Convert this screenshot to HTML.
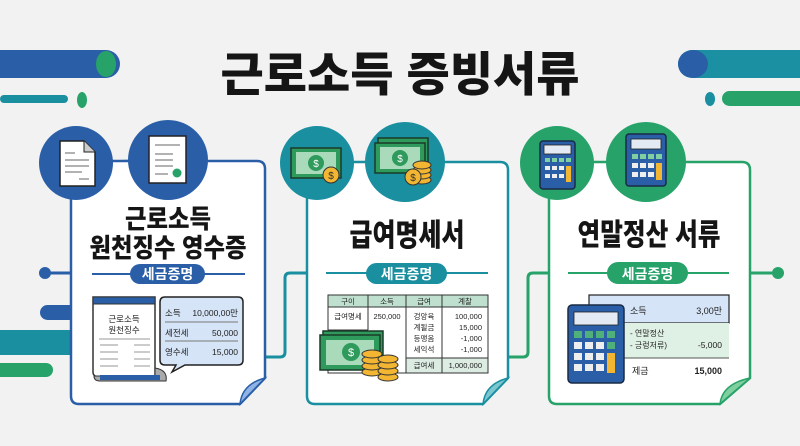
<!DOCTYPE html>
<html><head><meta charset="utf-8"><style>
html,body{margin:0;padding:0;background:#f2f2f2;}
svg{display:block;}
text{font-family:"Liberation Sans","Noto Sans CJK KR",sans-serif;}
</style></head><body>
<svg width="800" height="446" viewBox="0 0 800 446" xmlns="http://www.w3.org/2000/svg">
<rect width="800" height="446" fill="#f2f2f2"/>
<rect x="-20" y="50" width="140" height="28" rx="14" fill="#2a5fa8"/>
<ellipse cx="106" cy="64" rx="10" ry="13" fill="#27a36a"/>
<rect x="0" y="95" width="68" height="8" rx="4" fill="#1a8fa0"/>
<ellipse cx="82" cy="100" rx="5" ry="8" fill="#27a36a"/>
<rect x="678" y="50" width="140" height="28" rx="14" fill="#1a90a2"/>
<ellipse cx="693" cy="64" rx="15" ry="14" fill="#2a5fa8"/>
<rect x="722" y="91" width="100" height="15" rx="7.5" fill="#27a36a"/>
<ellipse cx="710" cy="99" rx="5" ry="7" fill="#1a8fa0"/>
<text x="400" y="91" text-anchor="middle" font-size="47" font-weight="900" fill="#151515" font-family="'Noto Sans CJK KR',sans-serif">근로소득 증빙서류</text>

<line x1="45" y1="273" x2="72" y2="273" stroke="#2a5fa8" stroke-width="3"/>
<circle cx="45" cy="273" r="6" fill="#2a5fa8"/>
<rect x="40" y="305" width="40" height="15" rx="7.5" fill="#2a5fa8"/>
<rect x="0" y="330" width="75" height="25" fill="#1a8fa0"/>
<rect x="-10" y="363" width="63" height="14" rx="7" fill="#27a36a"/>

<path d="M265 357 H280 Q285 357 285 352 V278 Q285 273 290 273 H307" fill="none" stroke="#1a8fa0" stroke-width="3"/>
<path d="M508 357 H523 Q528 357 528 352 V278 Q528 273 533 273 H549" fill="none" stroke="#27a36a" stroke-width="3"/>
<line x1="750" y1="273" x2="778" y2="273" stroke="#27a36a" stroke-width="3"/>
<circle cx="778" cy="273" r="6" fill="#27a36a"/>

<!-- PANEL 1 -->
<line x1="76" y1="163" x2="168" y2="160" stroke="#2a5fa8" stroke-width="3"/>
<path d="M71 169 Q71 161 79 161 H257 Q265 161 265 169 V378 L240 404 H79 Q71 404 71 396 Z" fill="#fff" stroke="#2a5fa8" stroke-width="2.5"/>
<path d="M265 378 L240 404 Q242 384 265 378 Z" fill="#8fb3e6" stroke="#2a5fa8" stroke-width="1.5"/>
<circle cx="76" cy="163" r="37" fill="#2a5fa8"/>
<circle cx="168" cy="160" r="40" fill="#2a5fa8"/>
<path d="M60 141 H84 L95 152 V186 H60 Z" fill="#fff" stroke="#222" stroke-width="1.5"/>
<path d="M84 141 V152 H95" fill="#ccc" stroke="#222" stroke-width="1"/>
<g stroke="#999" stroke-width="1.5"><line x1="65" y1="153" x2="75" y2="153"/><line x1="65" y1="160" x2="89" y2="160"/><line x1="65" y1="166" x2="89" y2="166"/><line x1="65" y1="172" x2="82" y2="172"/><line x1="79" y1="179" x2="89" y2="179"/></g>
<rect x="149" y="136" width="37" height="47" fill="#fff" stroke="#222" stroke-width="1.5"/>
<g stroke="#999" stroke-width="1.5"><line x1="155" y1="145" x2="180" y2="145"/><line x1="155" y1="154" x2="173" y2="154"/><line x1="155" y1="160" x2="173" y2="160"/><line x1="155" y1="166" x2="173" y2="166"/><line x1="155" y1="174" x2="168" y2="174"/></g>
<circle cx="177" cy="173" r="4.5" fill="#27a36a"/>
<text x="168" y="228" text-anchor="middle" font-size="26" font-weight="900" fill="#151515" textLength="86" lengthAdjust="spacingAndGlyphs">근로소득</text>
<text x="168" y="257" text-anchor="middle" font-size="26" font-weight="900" fill="#151515" textLength="157" lengthAdjust="spacingAndGlyphs">원천징수 영수증</text>
<line x1="92" y1="274" x2="245" y2="274" stroke="#2a5fa8" stroke-width="2"/>
<rect x="130" y="264" width="75" height="20" rx="10" fill="#2a5fa8"/>
<text x="167.5" y="279" text-anchor="middle" font-size="14" font-weight="bold" fill="#fff">세금증명</text>
<path d="M93 297 H155 V377 H100 Q93 377 93 372 Z" fill="#fff" stroke="#333" stroke-width="1.5"/>
<rect x="93" y="297" width="62" height="7" fill="#2a5fa8" stroke="#333" stroke-width="1"/>
<path d="M155 368 Q168 370 166 381 H100 Q94 381 94 376 H155 Z" fill="#aaa" stroke="#333" stroke-width="1"/>
<rect x="100" y="375" width="60" height="5" fill="#2a5fa8"/>
<text x="124" y="322" text-anchor="middle" font-size="8.5" fill="#222">근로소득</text>
<text x="124" y="333" text-anchor="middle" font-size="8.5" fill="#222">원천징수</text>
<line x1="99" y1="339" x2="150" y2="339" stroke="#999"/>
<g stroke="#aaa" stroke-width="1.2"><line x1="100" y1="345" x2="118" y2="345"/><line x1="100" y1="352" x2="118" y2="352"/><line x1="100" y1="359" x2="118" y2="359"/><line x1="100" y1="366" x2="118" y2="366"/><line x1="134" y1="345" x2="150" y2="345"/><line x1="134" y1="352" x2="150" y2="352"/><line x1="134" y1="359" x2="150" y2="359"/><line x1="134" y1="366" x2="150" y2="366"/></g>
<path d="M165 297 H238 Q243 297 243 302 V360 Q243 365 238 365 H185 L172 372 L176 365 H165 Q160 365 160 360 V302 Q160 297 165 297 Z" fill="#d5e4f6" stroke="#222" stroke-width="1.5"/>
<g stroke="#777" stroke-width="1"><line x1="165" y1="322" x2="238" y2="322"/><line x1="165" y1="341" x2="238" y2="341"/></g>
<g font-size="8.5" fill="#222"><text x="165" y="316">소득</text><text x="238" y="316" text-anchor="end">10,000,00만</text><text x="165" y="336">세전세</text><text x="238" y="336" text-anchor="end">50,000</text><text x="165" y="355">영수세</text><text x="238" y="355" text-anchor="end">15,000</text></g>

<!-- PANEL 2 -->
<line x1="317" y1="163" x2="405" y2="162" stroke="#1a8fa0" stroke-width="3"/>
<path d="M307 170 Q307 162 315 162 H500 Q508 162 508 170 V378 L483 404 H315 Q307 404 307 396 Z" fill="#fff" stroke="#1a8fa0" stroke-width="2.5"/>
<path d="M508 378 L483 404 Q485 384 508 378 Z" fill="#7cc6d0" stroke="#1a8fa0" stroke-width="1.5"/>
<circle cx="317" cy="163" r="37" fill="#1a8fa0"/>
<circle cx="405" cy="162" r="40" fill="#1a8fa0"/>
<rect x="291" y="148" width="50" height="30" fill="#2e9a5c" stroke="#1b3a2a" stroke-width="1.5"/>
<rect x="296" y="152" width="40" height="22" fill="#a9dbbb"/>
<circle cx="316" cy="163" r="8" fill="#2e9a5c"/><text x="316" y="167" text-anchor="middle" font-size="10" fill="#fff">$</text>
<circle cx="331" cy="175" r="8" fill="#f2b632" stroke="#333"/><text x="331" y="179" text-anchor="middle" font-size="10" fill="#333">$</text>
<rect x="378" y="138" width="50" height="32" fill="#2e9a5c" stroke="#1b3a2a" stroke-width="1.5"/>
<rect x="375" y="143" width="50" height="30" fill="#2e9a5c" stroke="#1b3a2a" stroke-width="1.5"/>
<rect x="380" y="147" width="40" height="22" fill="#a9dbbb"/>
<circle cx="400" cy="158" r="8" fill="#2e9a5c"/><text x="400" y="162" text-anchor="middle" font-size="10" fill="#fff">$</text>
<g fill="#f2b632" stroke="#333"><ellipse cx="422" cy="180" rx="9" ry="4"/><ellipse cx="422" cy="175" rx="9" ry="4"/><ellipse cx="422" cy="170" rx="9" ry="4"/><ellipse cx="422" cy="165" rx="9" ry="4"/></g>
<circle cx="413" cy="177" r="8" fill="#f2b632" stroke="#333"/><text x="413" y="181" text-anchor="middle" font-size="10" fill="#333">$</text>
<text x="407" y="246" text-anchor="middle" font-size="31" font-weight="900" fill="#151515" textLength="115" lengthAdjust="spacingAndGlyphs">급여명세서</text>
<line x1="326" y1="273" x2="488" y2="273" stroke="#1a8fa0" stroke-width="2"/>
<rect x="366" y="263" width="81" height="21" rx="10.5" fill="#1a8fa0"/>
<text x="406.5" y="279" text-anchor="middle" font-size="14" font-weight="bold" fill="#fff">세금증명</text>
<rect x="328" y="295" width="160" height="78" fill="#fff" stroke="#333" stroke-width="1"/>
<rect x="328" y="295" width="160" height="12" fill="#bfe0cf" stroke="#333" stroke-width="1"/>
<rect x="406" y="358" width="82" height="15" fill="#dcece3" stroke="#333" stroke-width="1"/>
<g stroke="#333" stroke-width="1"><line x1="368" y1="295" x2="368" y2="330"/><line x1="406" y1="295" x2="406" y2="373"/><line x1="442" y1="295" x2="442" y2="373"/><line x1="328" y1="330" x2="368" y2="330"/></g>
<g font-size="7.5" fill="#222" text-anchor="middle"><text x="348" y="304">구이</text><text x="387" y="304">소득</text><text x="424" y="304">급여</text><text x="465" y="304">계찰</text>
<text x="348" y="319">급여명세</text><text x="387" y="319">250,000</text>
<text x="424" y="319">겅앙육</text><text x="424" y="330">계될금</text><text x="424" y="341">등맹옴</text><text x="424" y="352">세익석</text><text x="424" y="368">급여세</text></g>
<g font-size="7.5" fill="#222" text-anchor="end"><text x="482" y="319">100,000</text><text x="482" y="330">15,000</text><text x="482" y="341">-1,000</text><text x="482" y="352">-1,000</text><text x="482" y="368">1,000,000</text></g>
<rect x="323" y="331" width="60" height="37" fill="#2e9a5c" stroke="#1b3a2a" stroke-width="1.5"/>
<rect x="320" y="335" width="60" height="35" fill="#2e9a5c" stroke="#1b3a2a" stroke-width="1.5"/>
<rect x="326" y="340" width="48" height="25" fill="#a9dbbb"/>
<circle cx="351" cy="352" r="9" fill="#2e9a5c"/><text x="351" y="356" text-anchor="middle" font-size="11" fill="#fff">$</text>
<g fill="#f2b632" stroke="#333"><ellipse cx="372" cy="372" rx="10" ry="4"/><ellipse cx="372" cy="366" rx="10" ry="4"/><ellipse cx="372" cy="360" rx="10" ry="4"/><ellipse cx="372" cy="354" rx="10" ry="4"/>
<ellipse cx="388" cy="377" rx="10" ry="4"/><ellipse cx="388" cy="371" rx="10" ry="4"/><ellipse cx="388" cy="365" rx="10" ry="4"/><ellipse cx="388" cy="359" rx="10" ry="4"/></g>

<!-- PANEL 3 -->
<line x1="557" y1="163" x2="646" y2="162" stroke="#27a36a" stroke-width="3"/>
<path d="M549 170 Q549 162 557 162 H742 Q750 162 750 170 V378 L720 404 H557 Q549 404 549 396 Z" fill="#fff" stroke="#27a36a" stroke-width="2.5"/>
<path d="M750 378 L720 404 Q722 384 750 378 Z" fill="#7fcf9f" stroke="#27a36a" stroke-width="1.5"/>
<circle cx="557" cy="163" r="37" fill="#27a36a"/>
<circle cx="646" cy="162" r="40" fill="#27a36a"/>
<rect x="540" y="141" width="35" height="48" rx="3" fill="#2a5fa8" stroke="#1a2a44" stroke-width="1.5"/>
<rect x="544" y="145" width="27" height="9" fill="#e3eaf3" stroke="#222" stroke-width="0.8"/>
<rect x="626" y="134" width="40" height="52" rx="3" fill="#2a5fa8" stroke="#1a2a44" stroke-width="1.5"/>
<rect x="631" y="139" width="30" height="10" fill="#e3eaf3" stroke="#222" stroke-width="0.8"/>
<g fill="#7fcf9f"><rect x="545" y="158" width="5" height="4"/><rect x="552" y="158" width="5" height="4"/><rect x="559" y="158" width="5" height="4"/><rect x="566" y="158" width="5" height="4"/>
<rect x="632" y="154" width="6" height="5"/><rect x="640" y="154" width="6" height="5"/><rect x="648" y="154" width="6" height="5"/><rect x="656" y="154" width="6" height="5"/></g>
<g fill="#eee"><rect x="545" y="166" width="5" height="4"/><rect x="552" y="166" width="5" height="4"/><rect x="559" y="166" width="5" height="4"/><rect x="545" y="174" width="5" height="4"/><rect x="552" y="174" width="5" height="4"/><rect x="559" y="174" width="5" height="4"/>
<rect x="632" y="163" width="6" height="5"/><rect x="640" y="163" width="6" height="5"/><rect x="648" y="163" width="6" height="5"/><rect x="632" y="172" width="6" height="5"/><rect x="640" y="172" width="6" height="5"/><rect x="648" y="172" width="6" height="5"/></g>
<rect x="566" y="166" width="5" height="16" fill="#f2b632"/><rect x="656" y="163" width="6" height="17" fill="#f2b632"/>
<text x="649" y="245" text-anchor="middle" font-size="30" font-weight="900" fill="#151515" textLength="143" lengthAdjust="spacingAndGlyphs">연말정산 서류</text>
<line x1="568" y1="273" x2="729" y2="273" stroke="#27a36a" stroke-width="2"/>
<rect x="607" y="262" width="81" height="22" rx="11" fill="#27a36a"/>
<text x="647.5" y="279" text-anchor="middle" font-size="14" font-weight="bold" fill="#fff">세금증명</text>
<rect x="589" y="295" width="140" height="28" fill="#d5e4f6" stroke="#222" stroke-width="1.2"/>
<rect x="600" y="323" width="129" height="35" fill="#dff0e4"/>
<line x1="600" y1="358" x2="729" y2="358" stroke="#555"/>
<g font-size="9" fill="#222"><text x="630" y="314">소득</text><text x="722" y="314" text-anchor="end">3,00만</text>
<text x="630" y="336" font-size="8">- 연말정산</text><text x="630" y="348" font-size="8">- 긍렁저류)</text><text x="722" y="348" text-anchor="end" font-size="8.5">-5,000</text>
<text x="632" y="374">제금</text><text x="722" y="374" text-anchor="end" font-weight="bold">15,000</text></g>
<rect x="568" y="305" width="56" height="78" rx="4" fill="#2a5fa8" stroke="#1a2a44" stroke-width="1.5"/>
<rect x="574" y="312" width="44" height="13" fill="#e3eaf3" stroke="#222" stroke-width="0.8"/>
<g fill="#4fb079"><rect x="574" y="331" width="8" height="7"/><rect x="585" y="331" width="8" height="7"/><rect x="596" y="331" width="8" height="7"/><rect x="607" y="331" width="8" height="7"/><rect x="607" y="342" width="8" height="7"/></g>
<g fill="#eee"><rect x="574" y="342" width="8" height="7"/><rect x="585" y="342" width="8" height="7"/><rect x="596" y="342" width="8" height="7"/><rect x="574" y="353" width="8" height="7"/><rect x="585" y="353" width="8" height="7"/><rect x="596" y="353" width="8" height="7"/><rect x="574" y="364" width="8" height="7"/><rect x="585" y="364" width="8" height="7"/><rect x="596" y="364" width="8" height="7"/></g>
<rect x="607" y="353" width="8" height="20" fill="#f2b632"/>
</svg>
</body></html>
